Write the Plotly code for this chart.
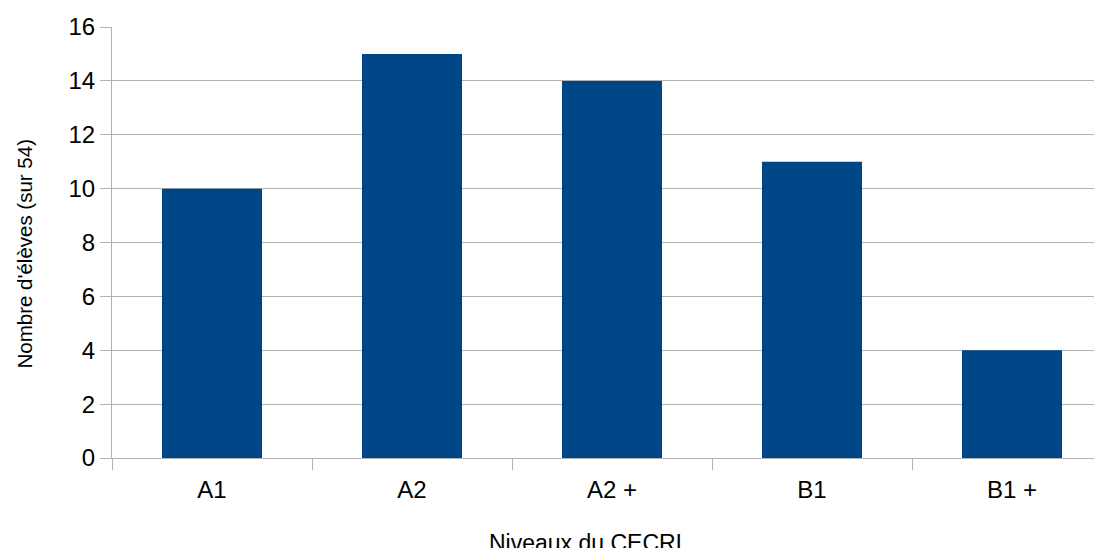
import plotly.graph_objects as go

categories = ["A1", "A2", "A2 +", "B1", "B1 +"]
values = [10, 15, 14, 11, 4]
y_ticks = [0, 2, 4, 6, 8, 10, 12, 14, 16]

# page body has an 8px margin, so the figure is sized to the visible window
W, H = 1094, 540
L, R, T, B = 104, 0, 19, 90
GRID = "#b3b3b3"

fig = go.Figure(go.Bar(x=list(range(len(categories))), y=values, width=0.5,
                       marker=dict(color="#004586", line=dict(width=0)),
                       hoverinfo="x+y"))

fig.update_layout(
    width=W, height=H,
    margin=dict(l=L, r=R, t=T, b=B),
    paper_bgcolor="white", plot_bgcolor="white",
    font=dict(family="Liberation Sans", color="black", size=24),
    showlegend=False,
    xaxis=dict(range=[-0.5, 4.45], tickmode="array",
               tickvals=list(range(len(categories))), ticktext=categories,
               showgrid=False, zeroline=False, showline=False,
               ticks="", ticklabelstandoff=15, tickfont=dict(size=24)),
    yaxis=dict(range=[0, 16], tickmode="array", tickvals=y_ticks,
               ticktext=[str(v) for v in y_ticks],
               showgrid=True, gridcolor=GRID, gridwidth=1,
               zeroline=False, showline=True, linecolor=GRID, linewidth=1,
               ticks="outside", ticklen=11, tickcolor=GRID,
               tickfont=dict(size=24)),
    xaxis2=dict(overlaying="x", range=[-0.5, 4.45], tickmode="array",
                tickvals=[-0.5, 0.5, 1.5, 2.5, 3.5],
                ticktext=["", "", "", "", ""], ticks="outside",
                ticklen=11, tickcolor=GRID, showgrid=False,
                zeroline=False, showline=True, linecolor=GRID,
                side="bottom", anchor="y"),
)

# invisible trace so the boundary-tick axis is drawn
fig.add_trace(go.Scatter(x=[-0.5], y=[0], xaxis="x2", mode="markers",
                         marker=dict(opacity=0), hoverinfo="skip"))

PW, PH = W - L - R, H - T - B
fig.add_annotation(text="Niveaux du CECRL", xref="paper", yref="paper",
                   x=(581 - L) / PW, y=-(535 - (H - B)) / PH,
                   showarrow=False, font=dict(size=23),
                   xanchor="center", yanchor="middle")
fig.add_annotation(text="Nombre d'élèves (sur 54)", xref="paper", yref="paper",
                   x=-(L - 16) / PW, y=(H - B - 245.5) / PH,
                   textangle=-90, showarrow=False, font=dict(size=20.5),
                   xanchor="center", yanchor="middle")

fig.write_html("out.html")
